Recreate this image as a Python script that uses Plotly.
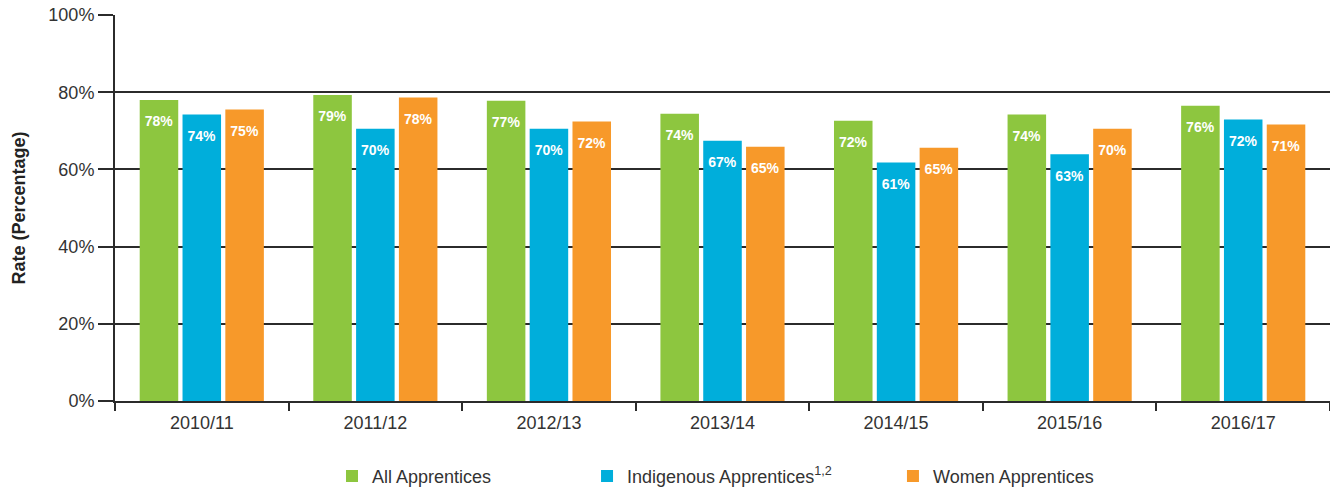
import plotly.graph_objects as go

years = ["2010/11", "2011/12", "2012/13", "2013/14", "2014/15", "2015/16", "2016/17"]
all_vals = [78.0, 79.3, 77.8, 74.4, 72.6, 74.2, 76.5]
indig_vals = [74.2, 70.5, 70.5, 67.4, 61.8, 63.9, 72.9]
women_vals = [75.5, 78.6, 72.4, 65.9, 65.6, 70.5, 71.6]
all_labels = [78, 79, 77, 74, 72, 74, 76]
indig_labels = [74, 70, 70, 67, 61, 63, 72]
women_labels = [75, 78, 72, 65, 65, 70, 71]
y_ticks = [0, 20, 40, 60, 80, 100]

series = [
    ("All Apprentices", all_vals, all_labels, "#8DC63F", "legend"),
    ("Indigenous Apprentices<sup>1,2</sup>", indig_vals, indig_labels, "#00AEDB", "legend2"),
    ("Women Apprentices", women_vals, women_labels, "#F7992A", "legend3"),
]

fig = go.Figure()
for name, vals, labels, color, lg in series:
    fig.add_trace(go.Bar(
        x=years, y=vals, name=name, marker_color=color, marker_line_width=0,
        text=[f"{v}%" for v in labels], textposition="inside",
        insidetextanchor="end", constraintext="none",
        textfont=dict(color="white", size=14, family="Liberation Sans"),
        texttemplate="<span style='font-size:6px'>\u00a0</span><br><b>%{text}</b>",
        hoverinfo="skip", legend=lg,
    ))

legend_style = dict(orientation="h", y=-0.195, yanchor="middle", xanchor="left",
                    font=dict(size=18, color="#333333"), itemwidth=30,
                    bgcolor="rgba(0,0,0,0)")
fig.update_layout(
    width=1330, height=489,
    margin=dict(l=115, r=0, t=15, b=88, autoexpand=False),
    plot_bgcolor="white", paper_bgcolor="white",
    barmode="group", bargap=0.26, bargroupgap=0.1,
    font=dict(family="Liberation Sans", color="#333333", size=18),
    showlegend=True,
    legend=dict(x=0.1786, **legend_style),
    legend2=dict(x=0.3885, **legend_style),
    legend3=dict(x=0.6403, **legend_style),
)
fig.update_yaxes(
    range=[0, 100], tickvals=y_ticks, ticktext=[f"{t}%" for t in y_ticks],
    showgrid=True, gridcolor="#2b2b2b", gridwidth=2,
    ticks="outside", ticklen=15, tickwidth=2, tickcolor="#2b2b2b",
    showline=True, linecolor="#2b2b2b", linewidth=2,
    zeroline=False, tickfont=dict(size=18, color="#333333"),
    title=dict(text="<b>Rate (Percentage)</b>", font=dict(size=18, color="#222222"), standoff=18),
)
fig.update_xaxes(
    tickson="boundaries", ticks="outside", ticklen=8, tickwidth=2, tickcolor="#2b2b2b",
    showline=True, linecolor="#2b2b2b", linewidth=2,
    tickfont=dict(size=18, color="#333333"), showgrid=False, ticklabelstandoff=4,
)

fig.write_html("out.html", config={"displayModeBar": False},
               post_script="document.body.style.margin='0';")
